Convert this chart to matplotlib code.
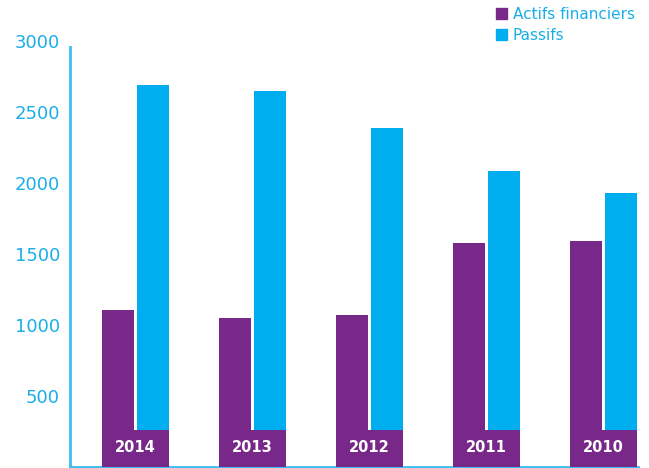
import matplotlib
matplotlib.use("Agg")
import matplotlib.pyplot as plt
from matplotlib.patches import Patch
import numpy as np

years = ["2014", "2013", "2012", "2011", "2010"]
actifs = [1106, 1049, 1070, 1577, 1592]
passifs = [2690, 2648, 2387, 2085, 1930]
yticks = [500, 1000, 1500, 2000, 2500, 3000]

purple = "#772888"
blue = "#00AEEF"
light_blue = "#3DBDEF"
label_blue = "#1AAEE8"

fig = plt.figure(figsize=(6.49, 4.68), dpi=100)
ax = fig.add_axes([70 / 649, 1 / 468, 568 / 649, 426 / 468])

x = np.arange(len(years))
w = 0.2735
off = 0.15
ax.bar(x - off, actifs, width=w, color=purple, label="Actifs financiers", zorder=2)
ax.bar(x + off, passifs, width=w, color=blue, label="Passifs", zorder=2)

# year boxes sitting on the baseline
box_h = 260
ax.bar(x, [box_h] * len(years), width=0.573, color=purple, zorder=3)
for xi, yr in zip(x, years):
    ax.text(xi, box_h / 2 + 10, yr, ha="center", va="center", color="white",
            fontsize=10.5, fontweight="bold", zorder=4)

ax.set_xlim(-0.56, 4.295)
ax.set_ylim(0, 3000)
ax.set_yticks(yticks)
ax.set_yticklabels([str(v) for v in yticks], color=label_blue, fontsize=13)
ax.tick_params(axis="y", length=0, pad=7.2)
ax.set_xticks([])

for s in ["top", "right"]:
    ax.spines[s].set_visible(False)
ax.spines["left"].set_color(light_blue)
ax.spines["left"].set_linewidth(2)
ax.spines["left"].set_bounds(0, 2958)
ax.spines["bottom"].set_color(light_blue)
ax.spines["bottom"].set_linewidth(2)

handles = [Patch(color=purple), Patch(color=blue)]
leg = fig.legend(handles, ["Actifs financiers", "Passifs"],
                 loc="upper left", bbox_to_anchor=(491 / 649, 1 - 2 / 468),
                 frameon=False, fontsize=11, handlelength=0.72,
                 handleheight=0.72, handletextpad=0.4, labelspacing=0.4,
                 borderpad=0.3, borderaxespad=0)
for t in leg.get_texts():
    t.set_color(label_blue)

fig.savefig("out.png", dpi=100)
